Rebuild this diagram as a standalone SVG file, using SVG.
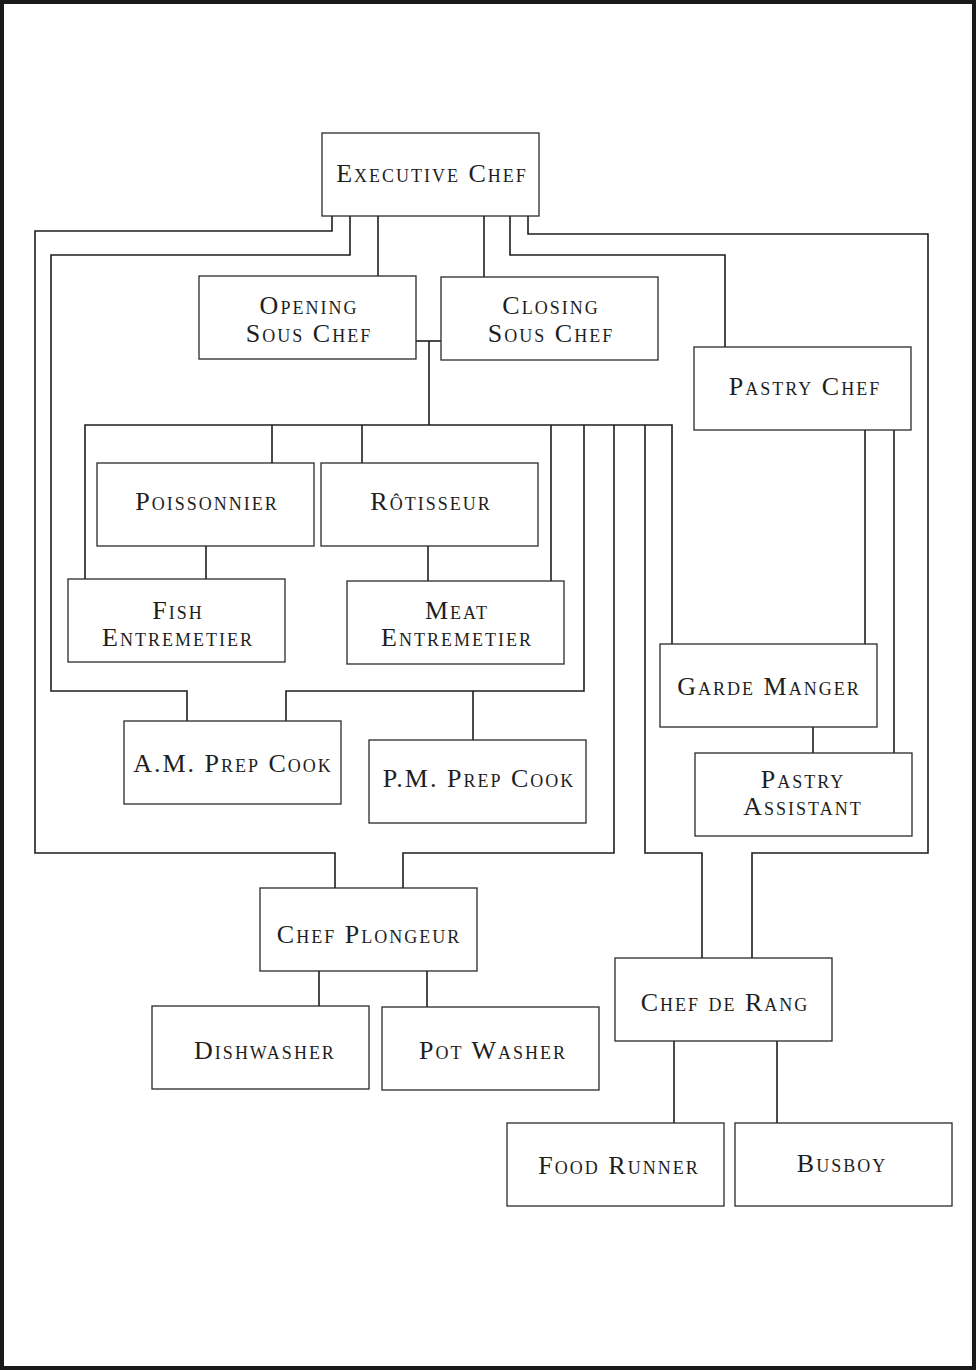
<svg xmlns="http://www.w3.org/2000/svg" width="976" height="1370" viewBox="0 0 976 1370">
<style>
.bg{fill:#ffffff}
.frame{fill:none;stroke:#1a1a1a;stroke-width:4}
.box{fill:#ffffff;stroke:#2a2a2a;stroke-width:1.3}
.c{fill:none;stroke:#1e1e1e;stroke-width:1.6;stroke-linejoin:miter}
.t{font-family:"Liberation Serif","Times New Roman",serif;font-size:26px;font-variant:small-caps;letter-spacing:2px;fill:#1e1e1e;text-anchor:middle}
</style>
<rect class="bg" x="0" y="0" width="976" height="1370"/>
<rect class="frame" x="2" y="2" width="972" height="1366"/>
<g id="connectors">
<polyline class="c" points="332,216 332,231 35,231 35,853 335,853 335,888"/>
<polyline class="c" points="350,216 350,255 51,255 51,691 187,691 187,721"/>
<polyline class="c" points="378,216 378,276"/>
<polyline class="c" points="484,216 484,277"/>
<polyline class="c" points="510,216 510,255 725,255 725,347"/>
<polyline class="c" points="528,216 528,234 928,234 928,853 752,853 752,958"/>
<polyline class="c" points="416,341 441,341"/>
<polyline class="c" points="429,341 429,425"/>
<polyline class="c" points="85,579 85,425 672,425 672,644"/>
<polyline class="c" points="272,425 272,463"/>
<polyline class="c" points="362,425 362,463"/>
<polyline class="c" points="551,425 551,581"/>
<polyline class="c" points="584,425 584,691 286,691 286,721"/>
<polyline class="c" points="473,691 473,740"/>
<polyline class="c" points="614,425 614,853 403,853 403,888"/>
<polyline class="c" points="645,425 645,853 702,853 702,958"/>
<polyline class="c" points="206,546 206,579"/>
<polyline class="c" points="428,546 428,581"/>
<polyline class="c" points="865,430 865,644"/>
<polyline class="c" points="894,430 894,753"/>
<polyline class="c" points="813,727 813,753"/>
<polyline class="c" points="319,971 319,1006"/>
<polyline class="c" points="427,971 427,1007"/>
<polyline class="c" points="674,1041 674,1123"/>
<polyline class="c" points="777,1041 777,1123"/>
</g>
<g id="executive-chef"><rect class="box" x="322" y="133" width="217" height="83"/><text class="t" x="432" y="182">Executive Chef</text></g>
<g id="opening-sous-chef"><rect class="box" x="199" y="276" width="217" height="83"/><text class="t" x="309" y="314">Opening</text><text class="t" x="309" y="342">Sous Chef</text></g>
<g id="closing-sous-chef"><rect class="box" x="441" y="277" width="217" height="83"/><text class="t" x="551" y="314">Closing</text><text class="t" x="551" y="342">Sous Chef</text></g>
<g id="pastry-chef"><rect class="box" x="694" y="347" width="217" height="83"/><text class="t" x="805" y="395">Pastry Chef</text></g>
<g id="poissonnier"><rect class="box" x="97" y="463" width="217" height="83"/><text class="t" x="207" y="510">Poissonnier</text></g>
<g id="rotisseur"><rect class="box" x="321" y="463" width="217" height="83"/><text class="t" x="431" y="510">Rôtisseur</text></g>
<g id="fish-entremetier"><rect class="box" x="68" y="579" width="217" height="83"/><text class="t" x="178" y="619">Fish</text><text class="t" x="178" y="646">Entremetier</text></g>
<g id="meat-entremetier"><rect class="box" x="347" y="581" width="217" height="83"/><text class="t" x="457" y="619">Meat</text><text class="t" x="457" y="646">Entremetier</text></g>
<g id="garde-manger"><rect class="box" x="660" y="644" width="217" height="83"/><text class="t" x="769" y="695">Garde Manger</text></g>
<g id="am-prep-cook"><rect class="box" x="124" y="721" width="217" height="83"/><text class="t" x="233" y="772">A.M. Prep Cook</text></g>
<g id="pm-prep-cook"><rect class="box" x="369" y="740" width="217" height="83"/><text class="t" x="479" y="787">P.M. Prep Cook</text></g>
<g id="pastry-assistant"><rect class="box" x="695" y="753" width="217" height="83"/><text class="t" x="803" y="788">Pastry</text><text class="t" x="803" y="815">Assistant</text></g>
<g id="chef-plongeur"><rect class="box" x="260" y="888" width="217" height="83"/><text class="t" x="369" y="943">Chef Plongeur</text></g>
<g id="dishwasher"><rect class="box" x="152" y="1006" width="217" height="83"/><text class="t" x="265" y="1059">Dishwasher</text></g>
<g id="pot-washer"><rect class="box" x="382" y="1007" width="217" height="83"/><text class="t" x="493" y="1059">Pot Washer</text></g>
<g id="chef-de-rang"><rect class="box" x="615" y="958" width="217" height="83"/><text class="t" x="725" y="1011">Chef de Rang</text></g>
<g id="food-runner"><rect class="box" x="507" y="1123" width="217" height="83"/><text class="t" x="619" y="1174">Food Runner</text></g>
<g id="busboy"><rect class="box" x="735" y="1123" width="217" height="83"/><text class="t" x="842" y="1172">Busboy</text></g>
</svg>
